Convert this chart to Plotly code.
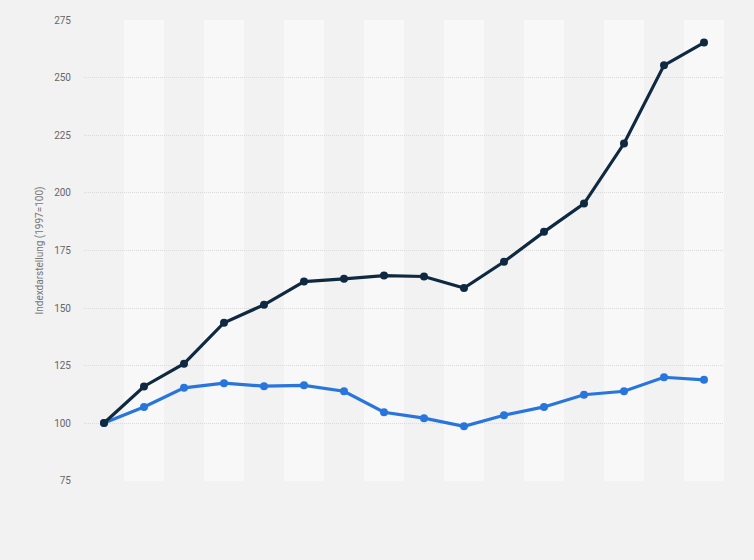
import plotly.graph_objects as go

years = [str(y) for y in range(1997, 2013)]
series_dark = [100, 115.9, 125.8, 143.6, 151.4, 161.5, 162.7, 164.1, 163.7, 158.7, 170.1, 183.1, 195.4, 221.5, 255.5, 265.4]
series_blue = [100, 107.0, 115.3, 117.3, 116.0, 116.4, 113.8, 104.7, 102.1, 98.6, 103.4, 107.0, 112.3, 113.8, 119.9, 118.8]
y_ticks = [75, 100, 125, 150, 175, 200, 225, 250, 275]
y_title = "Indexdarstellung (1997=100)"

fig = go.Figure()

fig.add_trace(go.Scatter(
    x=years, y=series_blue, mode="lines+markers",
    line=dict(color="#2876dd", width=3.2),
    marker=dict(size=8, color="#2876dd"),
    showlegend=False, hoverinfo="x+y",
))
fig.add_trace(go.Scatter(
    x=years, y=series_dark, mode="lines+markers",
    line=dict(color="#0f2940", width=3.2),
    marker=dict(size=8, color="#0f2940"),
    showlegend=False, hoverinfo="x+y",
))

shapes = []
for i in range(len(years)):
    if i % 2 == 1:
        shapes.append(dict(type="rect", xref="x", yref="paper",
                           x0=i - 0.5, x1=i + 0.5, y0=0, y1=1,
                           fillcolor="#f8f8f8", line=dict(width=0), layer="below"))

fig.update_layout(
    width=754, height=560,
    margin=dict(l=84, r=30, t=20, b=79),
    paper_bgcolor="#f2f2f2",
    plot_bgcolor="#f2f2f2",
    shapes=shapes,
    font=dict(family="Roboto, Arial, sans-serif", color="#666666", size=10),
)
fig.update_xaxes(
    type="category", showticklabels=False, showgrid=False, zeroline=False,
    showline=False, ticks="", range=[-0.5, len(years) - 0.5],
)
fig.update_yaxes(
    range=[74.8, 275.2], tickvals=y_ticks, showgrid=True,
    gridcolor="#dadada", griddash="1px,1px", gridwidth=1, zeroline=False,
    showline=False, ticks="", ticklabelstandoff=12,
    tickfont=dict(size=10, color="#666666"),
    title=dict(text=y_title, font=dict(size=10, color="#777777"), standoff=8),
)

fig.write_html("out.html", config={"displayModeBar": False},
               post_script="document.body.style.margin='0';")
